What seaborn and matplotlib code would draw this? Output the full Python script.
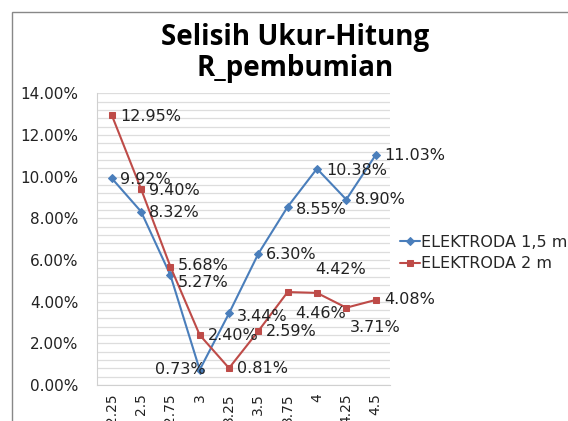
import seaborn as sns
import matplotlib.pyplot as plt
import matplotlib.ticker as mtick
from matplotlib.patches import Rectangle
import numpy as np
import pandas as pd

# data (fractions)
jarak = ['2.25', '2.5', '2.75', '3', '3.25', '3.5', '3.75', '4', '4.25', '4.5']
elektroda_15 = [0.0992, 0.0832, 0.0527, 0.0073, 0.0344, 0.0630, 0.0855, 0.1038, 0.0890, 0.1103]
elektroda_2 = [0.1295, 0.0940, 0.0568, 0.0240, 0.0081, 0.0259, 0.0446, 0.0442, 0.0371, 0.0408]

# label offsets in pixels (dx, dy, ha)
off_15 = [(8, -1, 'left'), (8, -1, 'left'), (7, -7, 'left'), (6, 0, 'right'), (8, -3, 'left'),
          (8, -1, 'left'), (8, -3, 'left'), (9, -2, 'left'), (9, 0, 'left'), (9, 0, 'left')]
off_2 = [(8, -1, 'left'), (8, -1, 'left'), (7, 1, 'left'), (8, -1, 'left'), (8, 0, 'left'),
         (8, 0, 'left'), (8, -21, 'left'), (-2, 23, 'left'), (4, -20, 'left'), (9, 0, 'left')]

df = pd.DataFrame({'pos': range(len(jarak)), 'ELEKTRODA 1,5 m': elektroda_15, 'ELEKTRODA 2 m': elektroda_2})

sns.set_style('white')
plt.rcParams['font.family'] = ['DejaVu Sans']

fig = plt.figure(figsize=(5.68, 4.21), dpi=100)
ax = fig.add_axes([0.171, 0.0855, 0.516, 0.693])

blue = '#4A7EBB'
red = '#BE4B48'
sns.lineplot(data=df, x='pos', y='ELEKTRODA 1,5 m', ax=ax, color=blue, marker='D', markersize=4,
             markeredgecolor=blue, linewidth=1.5, label='ELEKTRODA 1,5 m')
sns.lineplot(data=df, x='pos', y='ELEKTRODA 2 m', ax=ax, color=red, marker='s', markersize=5,
             markeredgecolor=red, linewidth=1.5, label='ELEKTRODA 2 m')

for i, v in enumerate(elektroda_15):
    dx, dy, ha = off_15[i]
    ax.annotate('%.2f%%' % (v * 100), (i, v), xytext=(dx, dy), textcoords='offset pixels',
                ha=ha, va='center', fontsize=11.5, color='#222222')
for i, v in enumerate(elektroda_2):
    dx, dy, ha = off_2[i]
    ax.annotate('%.2f%%' % (v * 100), (i, v), xytext=(dx, dy), textcoords='offset pixels',
                ha=ha, va='center', fontsize=11.5, color='#222222')

ax.set_xlim(-0.5, 9.5)
ax.set_ylim(0, 0.14)
ax.set_xticks(range(len(jarak)))
ax.set_xticklabels(jarak, rotation=90, fontsize=10)
ax.yaxis.set_major_locator(mtick.MultipleLocator(0.02))
ax.yaxis.set_minor_locator(mtick.MultipleLocator(0.004))
ax.yaxis.set_major_formatter(mtick.PercentFormatter(1.0, decimals=2))
ax.tick_params(axis='y', labelsize=11, length=0, pad=13.5, colors='#222222')
ax.tick_params(axis='x', length=0, pad=6, colors='#222222')
ax.grid(True, which='both', axis='y', color='#DDDDDD', linewidth=0.9)
ax.set_xlabel('')
ax.set_ylabel('')
for s in ['top', 'right']:
    ax.spines[s].set_visible(False)
for s in ['left', 'bottom']:
    ax.spines[s].set_color('#D0D0D0')

ax.legend(loc='center left', bbox_to_anchor=(0.704, 0.399), bbox_transform=fig.transFigure,
          frameon=False, fontsize=11.5, handlelength=1.25, handletextpad=0.1, labelspacing=0.4,
          borderpad=0, borderaxespad=0)

fig.text(0.52, 0.893, 'Selisih Ukur-Hitung', ha='center', va='baseline', fontsize=20,
         fontweight='bold', color='black', family=['Open Sans', 'DejaVu Sans'])
fig.text(0.52, 0.82, 'R_pembumian', ha='center', va='baseline', fontsize=20,
         fontweight='bold', color='black', family=['Open Sans', 'DejaVu Sans'])

# chart area border
fig.add_artist(Rectangle((12 / 568, -0.1), 1.2, 1 - 12 / 421 + 0.1, transform=fig.transFigure,
                         fill=False, edgecolor='#888888', linewidth=1))

plt.savefig('out.png', dpi=100)
